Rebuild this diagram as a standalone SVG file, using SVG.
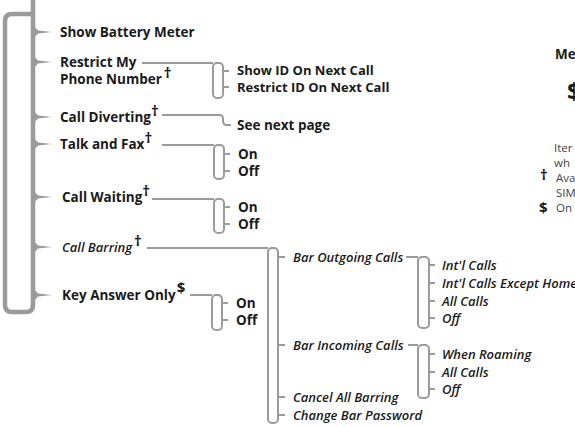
<svg xmlns="http://www.w3.org/2000/svg" width="575" height="426" viewBox="0 0 575 426">
<style>
.t{font-family:"Open Sans","Noto Sans",sans-serif;font-size:13.5px;font-weight:700;fill:#1a1a1a}
.s{font-size:13px}
.i{font-style:italic;font-weight:600;font-size:13px}
.sup{font-size:15px;font-weight:700}
.n{font-family:"Open Sans","Noto Sans",sans-serif;font-size:11.5px;font-weight:400;fill:#444}
.br{fill:none;stroke:#9b9b9b;stroke-width:2}
.ln{fill:none;stroke:#9b9b9b;stroke-width:2}
.tip{fill:#9b9b9b}
.main{fill:none;stroke:#9b9b9b;stroke-width:4.5;stroke-linejoin:round}
</style>
<rect width="575" height="426" fill="#fff"/>
<g id="connectors">
  <path class="main" d="M33,0 L33,306"/>
  <path class="main" d="M31,14 L12,14 Q5,14 5,21 L5,305 Q5,312 12,312 L26,312 Q33,312 33,305"/>
  <g class="tip">
    <polygon points="33,25 38,30.5 52,32 38,33.5 33,39"/>
    <polygon points="33,55 38,60.5 52,62 38,63.5 33,69"/>
    <polygon points="33,110 38,115.5 52,117 38,118.5 33,124"/>
    <polygon points="33,137 38,142.5 52,144 38,145.5 33,151"/>
    <polygon points="33,190 38,195.5 52,197 38,198.5 33,204"/>
    <polygon points="33,240 38,245.5 52,247 38,248.5 33,254"/>
    <polygon points="33,288 38,293.5 52,295 38,296.5 33,302"/>
  </g>
  <path class="ln" d="M142,63 L213,63"/>
  <rect class="br" x="213" y="63" width="10" height="35" rx="4"/>
  <path class="ln" d="M223,71 L229,71 M223,87 L229,87"/>
  <path class="ln" d="M162,115 L219,115 Q223,115 223,119 L223,121 Q223,125 227,125 L231,125"/>
  <path class="ln" d="M162,145 L214,145"/>
  <rect class="br" x="214" y="145" width="10" height="34" rx="4"/>
  <path class="ln" d="M224,154 L230,154 M224,171 L230,171"/>
  <path class="ln" d="M152,199 L214,199"/>
  <rect class="br" x="214" y="199" width="10" height="34" rx="4"/>
  <path class="ln" d="M224,207 L230,207 M224,224 L230,224"/>
  <path class="ln" d="M147,248 L268,248"/>
  <rect class="br" x="268" y="248" width="10" height="175" rx="4"/>
  <path class="ln" d="M278,257 L285,257 M278,345 L285,345 M278,397 L285,397 M278,415 L285,415"/>
  <path class="ln" d="M190,295 L212,295"/>
  <rect class="br" x="212" y="295" width="10" height="35" rx="4"/>
  <path class="ln" d="M222,303 L228,303 M222,320 L228,320"/>
  <path class="ln" d="M406,257 L418,257"/>
  <rect class="br" x="418" y="257" width="11" height="71" rx="4"/>
  <path class="ln" d="M429,265 L435,265 M429,283 L435,283 M429,301 L435,301 M429,318 L435,318"/>
  <path class="ln" d="M408,345 L418,345"/>
  <rect class="br" x="418" y="345" width="11" height="53" rx="4"/>
  <path class="ln" d="M429,354 L435,354 M429,372 L435,372 M429,389 L435,389"/>
</g>
<g id="show-battery"><text class="t" x="60" y="37">Show Battery Meter</text></g>
<g id="restrict"><text class="t" x="60" y="67">Restrict My</text><text class="t" x="60" y="84">Phone Number<tspan class="sup" dx="2" dy="-6">†</tspan></text></g>
<g id="show-id"><text class="t s" x="237" y="75">Show ID On Next Call</text></g>
<g id="restrict-id"><text class="t s" x="237" y="92">Restrict ID On Next Call</text></g>
<g id="diverting"><text class="t" x="60" y="122">Call Diverting<tspan class="sup" dy="-6">†</tspan></text></g>
<g id="see-next"><text class="t" x="237" y="130">See next page</text></g>
<g id="talk-fax"><text class="t" x="60" y="149">Talk and Fax<tspan class="sup" dy="-6">†</tspan></text></g>
<g id="tf-on"><text class="t" x="238" y="159">On</text></g>
<g id="tf-off"><text class="t" x="238" y="176">Off</text></g>
<g id="waiting"><text class="t" x="62" y="202">Call Waiting<tspan class="sup" dy="-6">†</tspan></text></g>
<g id="cw-on"><text class="t" x="238" y="212">On</text></g>
<g id="cw-off"><text class="t" x="238" y="229">Off</text></g>
<g id="barring"><text class="t i" x="62" y="252">Call Barring<tspan class="sup" font-style="normal" dx="2" dy="-6">†</tspan></text></g>
<g id="key-answer"><text class="t" x="62" y="300">Key Answer Only<tspan class="sup" dx="1" dy="-7">$</tspan></text></g>
<g id="ka-on"><text class="t" x="236" y="308">On</text></g>
<g id="ka-off"><text class="t" x="236" y="325">Off</text></g>
<g id="bar-out"><text class="t i" x="293" y="262">Bar Outgoing Calls</text></g>
<g id="bar-in"><text class="t i" x="293" y="350">Bar Incoming Calls</text></g>
<g id="cancel"><text class="t i" x="293" y="402">Cancel All Barring</text></g>
<g id="change"><text class="t i" x="293" y="420">Change Bar Password</text></g>
<g id="o-intl"><text class="t i" x="442" y="270">Int'l Calls</text></g>
<g id="o-intl-home"><text class="t i" x="442" y="288">Int'l Calls Except Home</text></g>
<g id="o-all"><text class="t i" x="442" y="306">All Calls</text></g>
<g id="o-off"><text class="t i" x="442" y="323">Off</text></g>
<g id="i-roam"><text class="t i" x="442" y="359">When Roaming</text></g>
<g id="i-all"><text class="t i" x="442" y="377">All Calls</text></g>
<g id="i-off"><text class="t i" x="442" y="394">Off</text></g>
<g id="legend">
  <text class="t" x="555" y="59">Me</text>
  <text class="t" x="567" y="100" style="font-size:24px">$</text>
  <text class="n" x="554" y="152">Iter</text>
  <text class="n" x="554" y="167">wh</text>
  <text class="t" x="540" y="180" style="font-size:15px">†</text>
  <text class="n" x="556" y="182">Ava</text>
  <text class="n" x="556" y="197">SIM</text>
  <text class="t" x="539" y="213" style="font-size:15px">$</text>
  <text class="n" x="556" y="212">On</text>
</g>
</svg>
